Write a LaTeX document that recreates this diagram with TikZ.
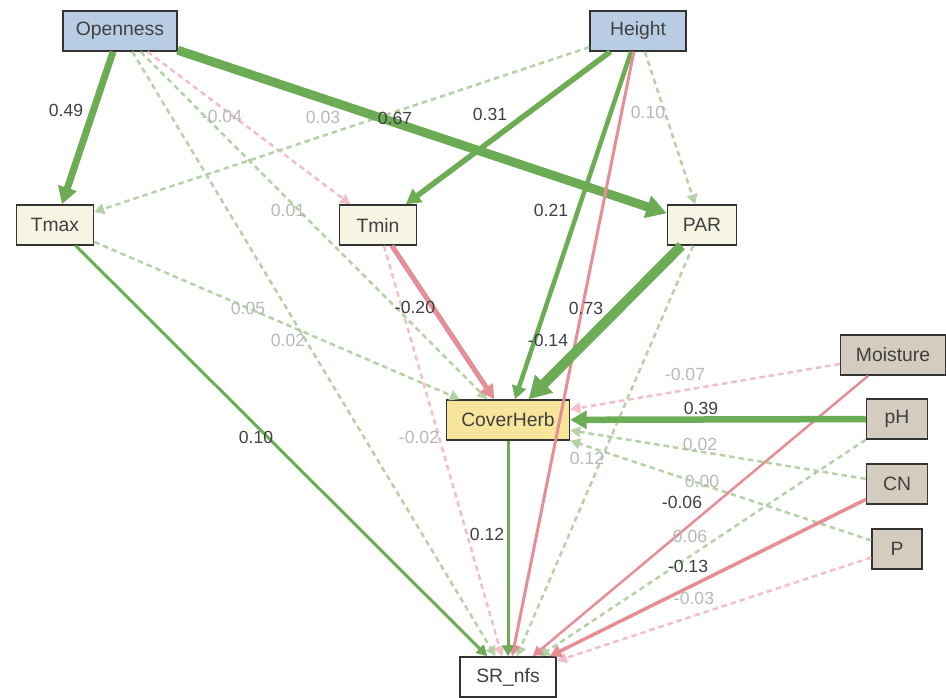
\documentclass[tikz,border=0pt]{standalone}
\usepackage{fontspec}
\setmainfont{Liberation Sans}
\usetikzlibrary{arrows.meta}

\definecolor{exoblue}{RGB}{184,205,228}
\definecolor{clim}{RGB}{246,244,226}
\definecolor{herb}{RGB}{247,229,156}
\definecolor{soil}{RGB}{212,204,191}
\definecolor{posgreen}{RGB}{108,172,84}
\definecolor{negpink}{RGB}{229,142,150}
\definecolor{nsgreen}{RGB}{180,210,166}
\definecolor{nspink}{RGB}{243,190,200}

\tikzset{pw/.style={line width=#1*0.2mm}}

\begin{document}
\begin{tikzpicture}[x=0.2mm,y=-0.2mm,>={Triangle[length=1.2mm 1.6,width=1.2mm 1.8]}]

            \tikzstyle{var}=[draw=black!80,line width=0.3mm,minimum height=8mm,inner sep=0pt,text=black!75,font=\fontsize{11}{13}\selectfont]
            \tikzstyle{exo}=[var,fill=exoblue]
            \tikzstyle{climate}=[var,fill=clim]
            \tikzstyle{cover}=[var,fill=herb]
            \tikzstyle{soilvar}=[var,fill=soil]
            \tikzstyle{resp}=[var,fill=white]
            \tikzstyle{spos}=[->,draw=posgreen]
            \tikzstyle{sneg}=[->,draw=negpink]
            \tikzstyle{npos}=[->,draw=nsgreen,pw=2.5,dash pattern=on 1.1mm off 0.8mm]
            \tikzstyle{nneg}=[->,draw=nspink,pw=2.5,dash pattern=on 1.1mm off 0.8mm]
            \tikzstyle{lsig}=[inner sep=1pt,text=black!75,font=\fontsize{10}{12}\selectfont]
            \tikzstyle{lns}=[lsig,text=black!28]

            \useasboundingbox (0,0) rectangle (946,698);

            \node[exo,minimum width=22.8mm]     (Op)   at (120,31)  {Openness};
            \node[exo,minimum width=19.2mm]     (Ht)   at (638,31)  {Height};
            \node[climate,minimum width=15.4mm] (Tmax) at (55,225)  {Tmax};
            \node[climate,minimum width=15.4mm] (Tmin) at (378,225) {Tmin};
            \node[climate,minimum width=13.8mm] (PAR)  at (702,225) {PAR};
            \node[cover,minimum width=24.6mm]   (CH)   at (508,420) {CoverHerb};
            \node[soilvar,minimum width=21mm]   (Mo)   at (893,355) {Moisture};
            \node[soilvar,minimum width=12.2mm] (pH)   at (897,419) {pH};
            \node[soilvar,minimum width=12.2mm] (CN)   at (897,484) {CN};
            \node[soilvar,minimum width=10mm]   (P)    at (897,549) {P};
            \node[resp,minimum width=19.2mm]    (SR)   at (508,677) {SR\_nfs};

            % non-significant paths
            \draw[npos] (Op) -- (CH);
            \draw[npos] (Op) -- (SR);
            \draw[nneg] (Op) -- (Tmin);
            \draw[npos] (Ht) -- (Tmax);
            \draw[npos] (Ht) -- (PAR);
            \draw[npos] (Tmax) -- (CH);
            \draw[nneg] (Tmin) -- (SR);
            \draw[npos] (PAR) -- (SR);
            \draw[nneg] (Mo) -- (CH);
            \draw[npos] (pH) -- (SR);
            \draw[npos] (CN) -- (CH);
            \draw[npos] (P) -- (CH);
            \draw[nneg] (P) -- (SR);

            % significant paths
            \draw[spos,pw=7]   (Op) -- (Tmax);
            \draw[spos,pw=9]   (Op) -- (PAR);
            \draw[spos,pw=5.5] (Ht) -- (Tmin);
            \draw[spos,pw=4.5] (Ht) -- (CH);
            \draw[sneg,pw=3]   (Ht) -- (SR);
            \draw[spos,pw=3]   (Tmax) -- (SR);
            \draw[sneg,pw=5]   (Tmin) -- (CH);
            \draw[spos,pw=10]  (PAR) -- (CH);
            \draw[spos,pw=3]   (CH) -- (SR);
            \draw[sneg,pw=2.5] (Mo) -- (SR);
            \draw[spos,pw=6.5] (pH) -- (CH);
            \draw[sneg,pw=3.5] (CN) -- (SR);

            % coefficients
            \node[lsig] (lOpTmax)  at (66,110)  {0.49};
            \node[lns]  (lOpTmin)  at (222,116) {-0.04};
            \node[lns]  (lHtTmax)  at (323,117) {0.03};
            \node[lsig] (lOpPAR)   at (395,118) {0.67};
            \node[lsig] (lHtTmin)  at (490,114) {0.31};
            \node[lns]  (lHtPAR)   at (648,112) {0.10};
            \node[lns]  (lOpCH)    at (288,210) {0.01};
            \node[lsig] (lHtCH)    at (551,210) {0.21};
            \node[lsig] (lTminCH)  at (415,307) {-0.20};
            \node[lsig] (lPARCH)   at (586,308) {0.73};
            \node[lns]  (lTmaxCH)  at (248,308) {0.05};
            \node[lns]  (lOpSR)    at (288,340) {0.02};
            \node[lsig] (lHtSR)    at (548,340) {-0.14};
            \node[lns]  (lMoCH)    at (685,374) {-0.07};
            \node[lsig] (lpHCH)    at (701,408) {0.39};
            \node[lsig] (lTmaxSR)  at (256,437) {0.10};
            \node[lns]  (lTminSR)  at (419,437) {-0.02};
            \node[lns]  (lPARSR)   at (587,458) {0.12};
            \node[lns]  (lCNCH)    at (700,444) {0.02};
            \node[lns]  (lPCH)     at (702,481) {0.00};
            \node[lsig] (lMoSR)    at (682,502) {-0.06};
            \node[lns]  (lpHSR)    at (690,536) {0.06};
            \node[lsig] (lCHSR)    at (487,534) {0.12};
            \node[lsig] (lCNSR)    at (688,566) {-0.13};
            \node[lns]  (lPSR)     at (694,598) {-0.03};
        \end{tikzpicture}
\end{document}
